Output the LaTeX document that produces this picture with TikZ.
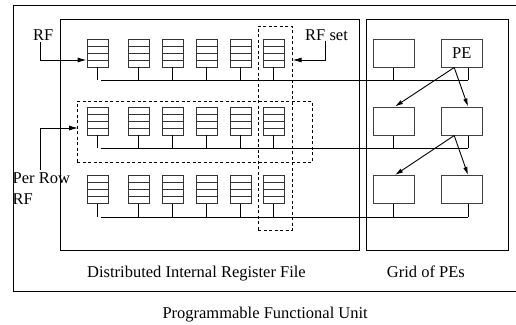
\documentclass[tikz,border=0pt]{standalone}
\usepackage{fontspec}
\setmainfont{Liberation Serif}
\usetikzlibrary{arrows.meta,calc}
\begin{document}
\begin{tikzpicture}[x=1pt,y=-1pt,
  lbl/.style={font=\fontsize{16.5}{19}\selectfont, inner sep=0pt, anchor=base west},
  ln/.style={line width=0.9pt},
  box/.style={draw, line width=1pt, inner sep=0pt, anchor=north west},
  dashbox/.style={draw, line width=0.9pt, dash pattern=on 3pt off 2.5pt, inner sep=0pt, anchor=north west},
  reg/.style={draw=black!80, line width=0.9pt, inner sep=0pt, minimum width=21pt, minimum height=28pt,
    path picture={
      \foreach \f in {0.25,0.5,0.75}
        \draw[black!80, line width=0.9pt] ($(path picture bounding box.north west)!\f!(path picture bounding box.south west)$) -- ($(path picture bounding box.north east)!\f!(path picture bounding box.south east)$);
    }},
  pe/.style={draw=black!75, line width=1pt, inner sep=0pt, minimum width=41pt, minimum height=28pt, font=\fontsize{16.5}{19}\selectfont},
  arr/.style={ln, -{Latex[length=9pt,width=5pt]}},
  arrs/.style={ln, -{Latex[length=8pt,width=4.5pt]}}
]
\useasboundingbox (0,0) rectangle (516,324);
% containers
\node[box, minimum width=510pt, minimum height=286pt] (pfu) at (12.5,5) {};
\node[box, minimum width=299pt, minimum height=231pt] (dirf) at (60,19) {};
\node[box, minimum width=142pt, minimum height=231pt] (grid) at (366,19) {};
% dashed groups
\node[dashbox, minimum width=34pt, minimum height=204.3pt] (rfset) at (257.7,25.7) {};
\node[dashbox, minimum width=235pt, minimum height=61pt] (perrow) at (77,100.7) {};
% helper coordinates
\coordinate (b1s) at (101,80);  \coordinate (b1e) at (468,80);
\coordinate (b2s) at (101,148); \coordinate (b2e) at (468,148);
\coordinate (b3s) at (101,217); \coordinate (b3e) at (468,217);
% registers
\foreach \r/\y in {1/53,2/121,3/189.5}{
  \foreach \c/\x in {1/97.5,2/138.5,3/172.5,4/206.5,5/240.5,6/273.8}{
    \node[reg] (r\r\c) at (\x,\y) {};
    \draw[ln] (r\r\c.south) -- (r\r\c.south |- b\r s);
  }
  \draw[ln] (b\r s) -- (b\r e);
  \node[pe] (pe\r1) at (393.5,\y) {};
  \node[pe] (pe\r2) at (461.7,\y) {};
  \draw[ln] (pe\r1.south) -- (pe\r1.south |- b\r s);
  \draw[ln] (pe\r2.south -| b\r e) -- (b\r e);
}
\node[font=\fontsize{16.5}{19}\selectfont] at (pe12) {PE};
% PE arrows
\draw[arrs] ([xshift=-7.5pt]pe12.south) -- ([xshift=1.5pt]pe21.north);
\draw[arrs] ([xshift=-7.5pt]pe12.south) -- (pe22.north -| b2e);
\draw[arrs] ([xshift=-7.5pt]pe22.south) -- ([xshift=1.5pt]pe31.north);
\draw[arrs] ([xshift=-7.5pt]pe22.south) -- (pe32.north -| b3e);
% labels
\node[lbl] (rflab) at (33,40) {RF};
\node[lbl] (rfsetlab) at (305,40) {RF set};
\node[lbl] (perrowlab1) at (12.5,183) {Per Row};
\node[lbl] (perrowlab2) at (12.5,204) {RF};
\node[lbl] (dirflab) at (87,277) {Distributed Internal Register File};
\node[lbl] (gridlab) at (386.7,277.7) {Grid of PEs};
\node[lbl] (pfulab) at (162.3,318.3) {Programmable Functional Unit};
% label arrows
\coordinate (y60) at (0,60);
\coordinate (y128) at (0,128);
\coordinate (rfa) at (40,42);
\coordinate (rfsa) at (325.7,41);
\coordinate (pra) at (40,170);
\draw[arr] (rfa) |- (r11.west |- y60);
\draw[arr] (rfsa) |- (rfset.east |- y60);
\draw[arr] (pra) |- ([xshift=1pt]perrow.west |- y128);
\end{tikzpicture}
\end{document}
